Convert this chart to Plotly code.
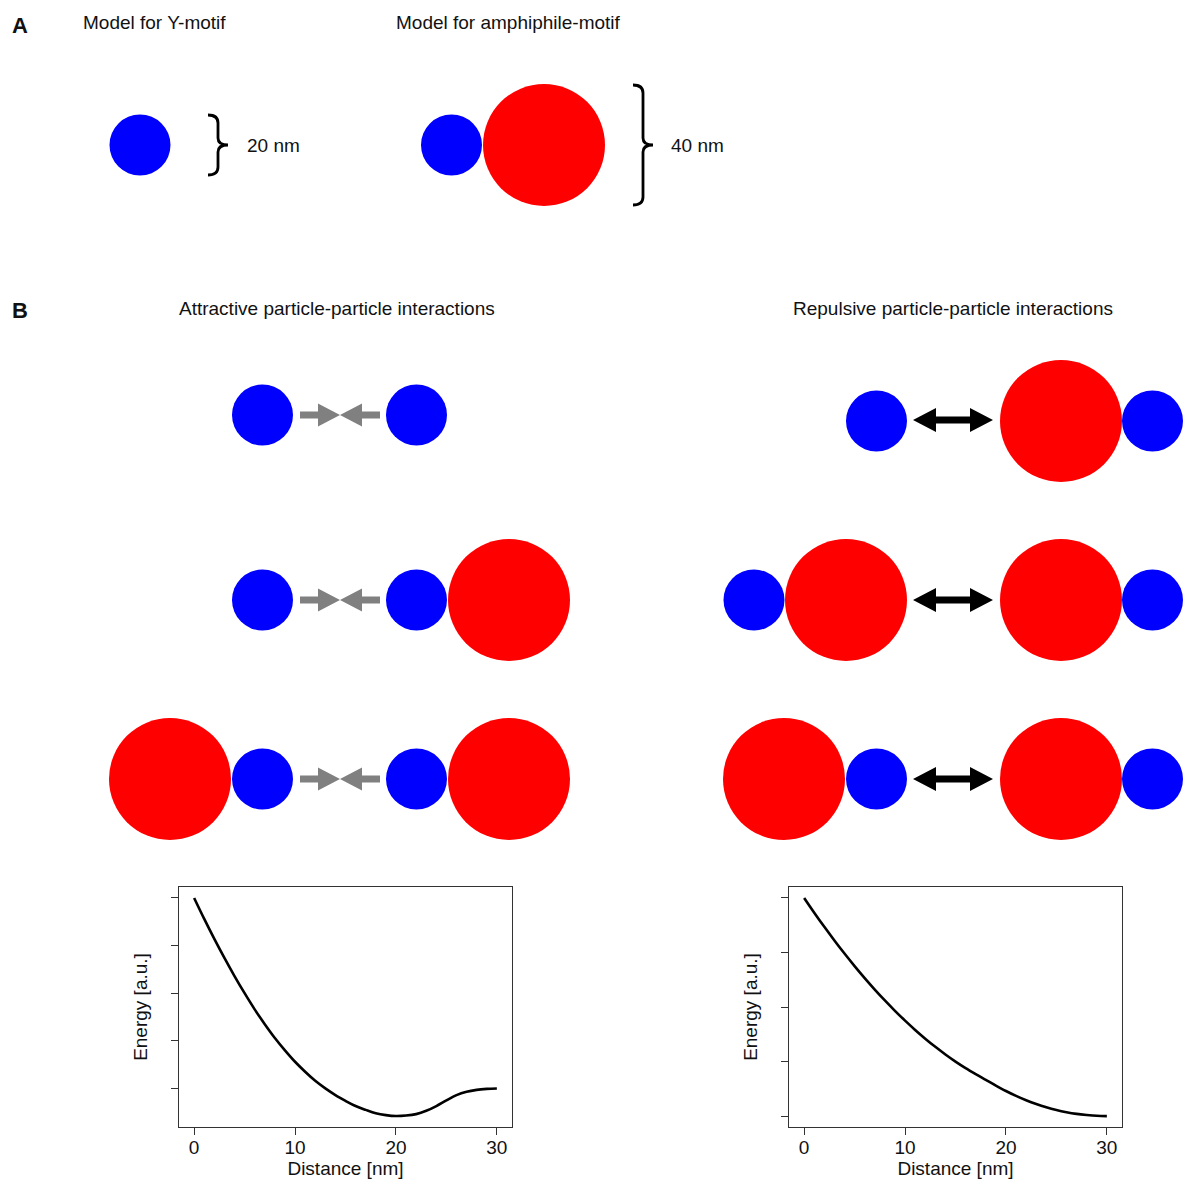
import plotly.graph_objects as go

# ---------------- data ----------------
distance_nm = list(range(31))
energy_attractive = [4.00, 3.56, 3.14, 2.74, 2.36, 2.00, 1.66, 1.35, 1.06, 0.80,
                     0.56, 0.35, 0.16, 0.00, -0.14, -0.26, -0.37, -0.45, -0.52, -0.56,
                     -0.58, -0.57, -0.54, -0.47, -0.37, -0.25, -0.14, -0.07, -0.03, -0.01, 0.00]
energy_repulsive = [4.00, 3.73, 3.47, 3.22, 2.98, 2.75, 2.53, 2.32, 2.12, 1.93,
                    1.75, 1.58, 1.42, 1.27, 1.13, 1.00, 0.88, 0.77, 0.665, 0.56,
                    0.46, 0.37, 0.29, 0.22, 0.16, 0.11, 0.07, 0.04, 0.02, 0.005, 0.00]
distance_ticks = [0, 10, 20, 30]
energy_ticks = [0, 1, 2, 3, 4]

# particle model diagram (diagram coordinates, 1 unit = 1 px)
particle_type = ["Y", "Y", "A",
                 "Y", "Y",
                 "Y", "Y", "A",
                 "A", "Y", "Y", "A",
                 "Y", "A", "Y",
                 "Y", "A", "A", "Y",
                 "A", "Y", "A", "Y"]
particle_x = [140, 451.5, 544,
              262.5, 416.5,
              262.5, 416.5, 509,
              170, 262.5, 416.5, 509,
              876.5, 1061, 1152.5,
              754, 846, 1061, 1152.5,
              784, 876.5, 1061, 1152.5]
particle_y = [145, 145, 145,
              415, 415,
              600, 600, 600,
              779, 779, 779, 779,
              421, 421, 421,
              600, 600, 600, 600,
              779, 779, 779, 779]
particle_diameter_nm = {"Y": 20, "A": 40}

attract_arrow_x = [340, 340, 340]
attract_arrow_y = [415, 600, 779]
repulse_arrow_x = [953, 953, 953]
repulse_arrow_y = [420, 600, 779]

brace_x = [208, 633]
brace_top = [115, 85]
brace_bottom = [175, 205]
brace_labels = ["20 nm", "40 nm"]
brace_label_x = [245, 669]

# ---------------- styles ----------------
FONT = "Liberation Sans, Arial, Helvetica, sans-serif"
FS = 19
PX_PER_NM = 3.05
COLORS = {"Y": "#0000ff", "A": "#ff0000"}
W, H = 1186, 1184

fig = go.Figure()

# energy curves
fig.add_trace(go.Scatter(x=distance_nm, y=energy_attractive, mode="lines",
                         line=dict(color="black", width=2.6, shape="spline", smoothing=1.0),
                         xaxis="x", yaxis="y", showlegend=False, hoverinfo="skip"))
fig.add_trace(go.Scatter(x=distance_nm, y=energy_repulsive, mode="lines",
                         line=dict(color="black", width=2.6, shape="spline", smoothing=1.0),
                         xaxis="x2", yaxis="y2", showlegend=False, hoverinfo="skip"))

shapes = []
# particles
for t, cx, cy in zip(particle_type, particle_x, particle_y):
    r = particle_diameter_nm[t] * PX_PER_NM / 2
    shapes.append(dict(type="circle", xref="x3", yref="y3",
                       x0=cx - r, x1=cx + r, y0=cy - r, y1=cy + r,
                       fillcolor=COLORS[t], line=dict(width=0)))

def poly(pts):
    return "M " + " L ".join(f"{x},{y}" for x, y in pts) + " Z"

# attractive (converging grey) arrows
for cx, cy in zip(attract_arrow_x, attract_arrow_y):
    for s in (-1, 1):
        pts = [(cx + s * 40, cy - 3.5), (cx + s * 22, cy - 3.5), (cx + s * 22, cy - 11.5),
               (cx, cy), (cx + s * 22, cy + 11.5), (cx + s * 22, cy + 3.5), (cx + s * 40, cy + 3.5)]
        shapes.append(dict(type="path", xref="x3", yref="y3", path=poly(pts),
                           fillcolor="#808080", line=dict(width=0)))

# repulsive (double-headed black) arrows
for cx, cy in zip(repulse_arrow_x, repulse_arrow_y):
    pts = [(cx - 40, cy), (cx - 17, cy - 12), (cx - 17, cy - 3.5), (cx + 17, cy - 3.5),
           (cx + 17, cy - 12), (cx + 40, cy), (cx + 17, cy + 12), (cx + 17, cy + 3.5),
           (cx - 17, cy + 3.5), (cx - 17, cy + 12)]
    shapes.append(dict(type="path", xref="x3", yref="y3", path=poly(pts),
                       fillcolor="black", line=dict(width=0)))

# braces
for x0, yt, yb in zip(brace_x, brace_top, brace_bottom):
    ym = (yt + yb) / 2
    xv = x0 + 10
    p = (f"M {x0},{yt} Q {xv},{yt} {xv},{yt + 8} L {xv},{ym - 7} "
         f"Q {xv},{ym} {x0 + 20},{ym} Q {xv},{ym} {xv},{ym + 7} "
         f"L {xv},{yb - 8} Q {xv},{yb} {x0},{yb}")
    shapes.append(dict(type="path", xref="x3", yref="y3", path=p,
                       line=dict(color="black", width=2.8)))

annotations = []
def txt(x, y, s, size=FS, bold=False):
    annotations.append(dict(x=x, y=y, xref="x3", yref="y3", text=(f"<b>{s}</b>" if bold else s),
                            showarrow=False, xanchor="left", yanchor="middle",
                            font=dict(family=FONT, size=size, color="#111111")))

txt(10, 25, "A", size=22, bold=True)
txt(81, 22, "Model for Y-motif")
txt(394, 22, "Model for amphiphile-motif")
for lab, lx in zip(brace_labels, brace_label_x):
    txt(lx, 145, lab)
txt(10, 310, "B", size=22, bold=True)
txt(177, 308, "Attractive particle-particle interactions")
txt(791, 308, "Repulsive particle-particle interactions")

axis_common = dict(showline=True, linecolor="#333333", linewidth=1.3, mirror=True,
                   ticks="outside", ticklen=7, tickwidth=1.3, tickcolor="#333333",
                   showgrid=False, zeroline=False,
                   tickfont=dict(family=FONT, size=FS, color="#111111"))

y_top = 1 - 887 / H
y_bot = 1 - 1127 / H

fig.update_layout(
    width=W, height=H,
    margin=dict(l=0, r=0, t=0, b=0),
    paper_bgcolor="white", plot_bgcolor="rgba(0,0,0,0)",
    showlegend=False,
    xaxis=dict(domain=[179 / W, 512 / W], range=[-1.5, 31.5], tickvals=distance_ticks,
               anchor="y", ticklabelstandoff=-4,
               title=dict(text="Distance [nm]", standoff=2,
                          font=dict(family=FONT, size=FS, color="#111111")),
               **axis_common),
    yaxis=dict(domain=[y_bot, y_top], range=[-0.81, 4.23], tickvals=energy_ticks,
               showticklabels=False, anchor="x",
               title=dict(text="Energy [a.u.]", standoff=18,
                          font=dict(family=FONT, size=FS, color="#111111")),
               **axis_common),
    xaxis2=dict(domain=[789 / W, 1122 / W], range=[-1.5, 31.5], tickvals=distance_ticks,
                anchor="y2", ticklabelstandoff=-4,
                title=dict(text="Distance [nm]", standoff=2,
                           font=dict(family=FONT, size=FS, color="#111111")),
                **axis_common),
    yaxis2=dict(domain=[y_bot, y_top], range=[-0.2, 4.2], tickvals=energy_ticks,
                showticklabels=False, anchor="x2",
                title=dict(text="Energy [a.u.]", standoff=18,
                           font=dict(family=FONT, size=FS, color="#111111")),
                **axis_common),
    xaxis3=dict(domain=[0, 1], range=[0, W], visible=False, fixedrange=True, anchor="y3"),
    yaxis3=dict(domain=[0, 1], range=[H, 0], visible=False, fixedrange=True, anchor="x3"),
    shapes=shapes,
    annotations=annotations,
)

fig.write_html("out.html", config={"displayModeBar": False},
               post_script="document.body.style.margin='0';document.body.style.overflow='hidden';")
